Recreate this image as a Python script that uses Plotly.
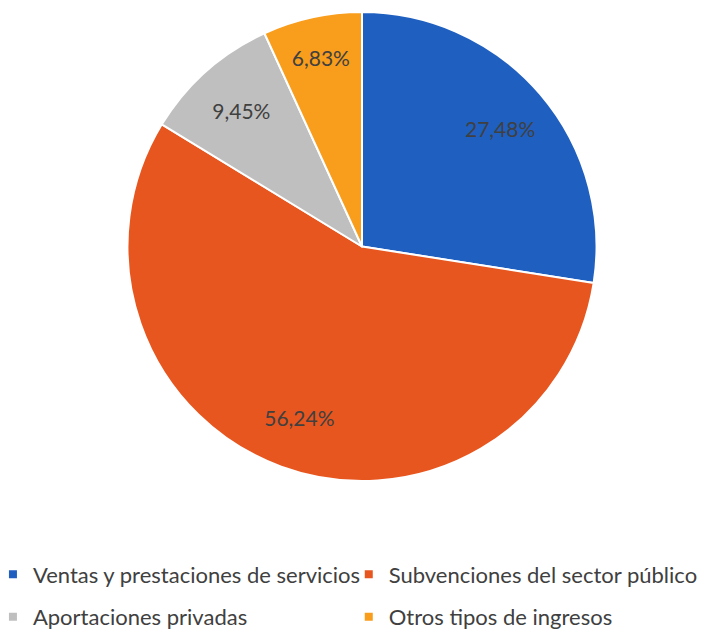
import plotly.graph_objects as go

labels = ["Ventas y prestaciones de servicios", "Subvenciones del sector público",
          "Aportaciones privadas", "Otros tipos de ingresos"]
values = [27.48, 56.24, 9.45, 6.83]
text_labels = ["27,48%", "56,24%", "9,45%", "6,83%"]
colors = ["#1f5fc0", "#e8561f", "#bfbfbf", "#f99d1c"]
legend_of = ["legend", "legend2", "legend", "legend2"]

FONT = "Lato, Open Sans, sans-serif"
dom = dict(x=[0.1799, 0.8456], y=[0.2377, 0.981])

fig = go.Figure()
# coloured pie with white separators
fig.add_trace(go.Pie(
    labels=labels, values=values, textinfo="none",
    sort=False, direction="clockwise", rotation=0,
    marker=dict(colors=colors, line=dict(color="white", width=2)),
    domain=dom, showlegend=False, hoverinfo="label+percent",
))
# transparent ring carrying the data labels (places them towards the rim)
fig.add_trace(go.Pie(
    labels=labels, values=values, text=text_labels,
    textinfo="text", textposition="inside", insidetextorientation="horizontal",
    sort=False, direction="clockwise", rotation=0, hole=0.55,
    marker=dict(colors=["rgba(0,0,0,0)"] * 4, line=dict(width=0)),
    textfont=dict(family=FONT, size=21, color="#404040"),
    domain=dom, showlegend=False, hoverinfo="skip",
))
# legend entries
for lab, col, lg in zip(labels, colors, legend_of):
    fig.add_trace(go.Scatter(
        x=[None], y=[None], mode="markers", name=lab, legend=lg, legendgroup=lab,
        marker=dict(symbol="square", size=8, color=col),
    ))

legend_common = dict(
    orientation="v", yanchor="top", xanchor="left",
    font=dict(family=FONT, size=22, color="#404040"),
    tracegroupgap=11, itemwidth=30, bgcolor="rgba(0,0,0,0)",
)
fig.update_layout(
    width=706, height=631,
    margin=dict(l=0, r=0, t=0, b=0, autoexpand=False),
    paper_bgcolor="white", plot_bgcolor="white",
    xaxis=dict(visible=False), yaxis=dict(visible=False),
    legend=dict(x=-0.01, y=0.123, **legend_common),
    legend2=dict(x=0.494, y=0.123, **legend_common),
)

fig.write_html("out.html", config={"displayModeBar": False},
               post_script="document.body.style.margin='0';")
